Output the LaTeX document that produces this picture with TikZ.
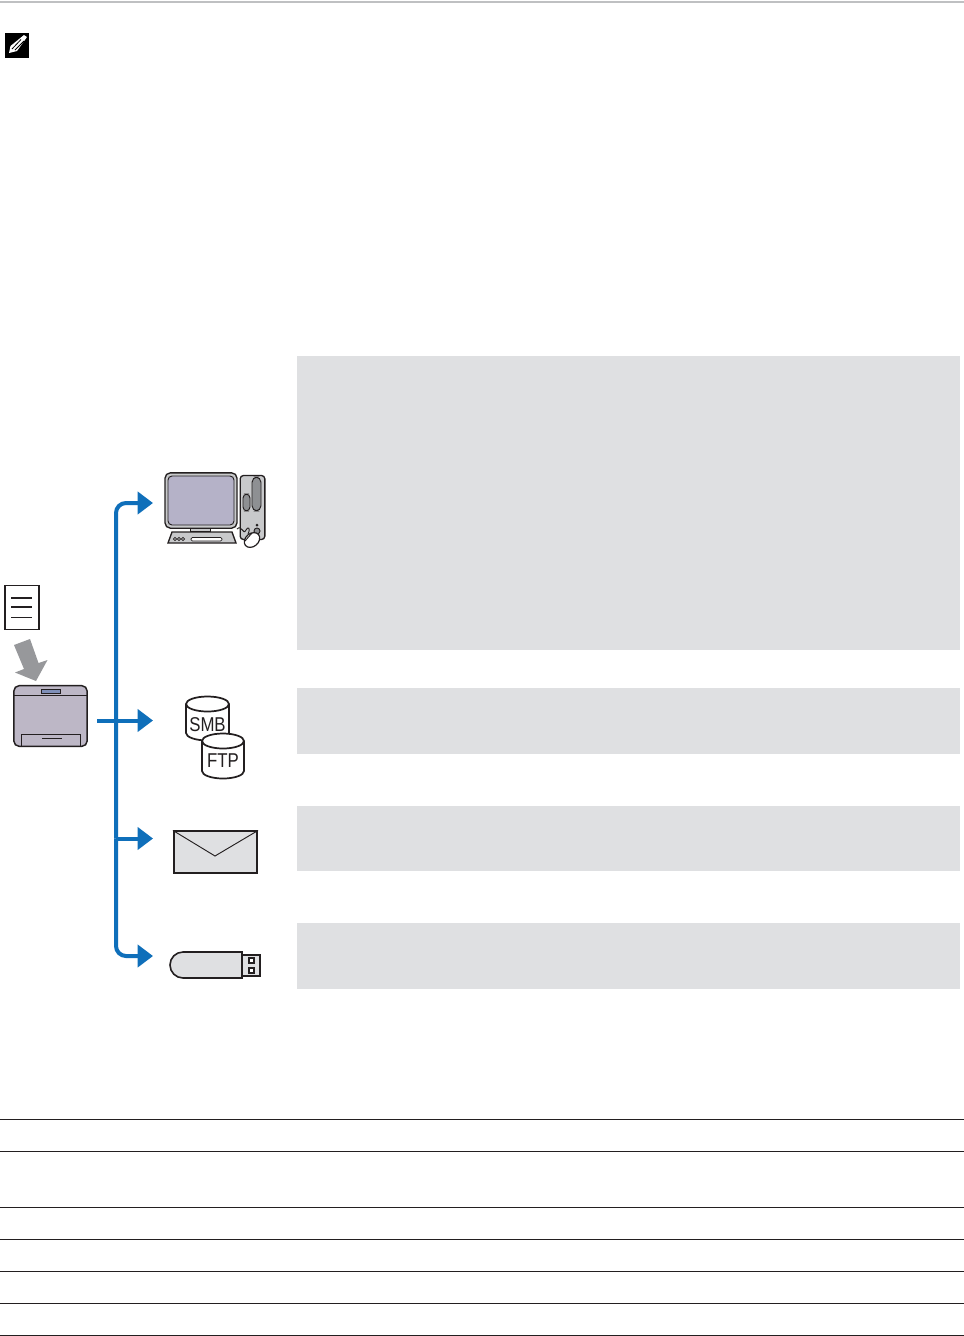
\documentclass[tikz,border=0pt]{standalone}
\usepackage{fontspec}
\setmainfont{Liberation Sans}
\usetikzlibrary{arrows.meta}
\definecolor{panelgray}{HTML}{DFE0E2}
\definecolor{flowblue}{HTML}{0F6FBA}
\definecolor{inkdark}{HTML}{231F20}
\definecolor{devicepurple}{HTML}{BDB7C6}
\definecolor{screenpurple}{HTML}{B5B2C8}
\definecolor{panelblue}{HTML}{7F8FB8}
\definecolor{bodygray}{HTML}{C8C9CB}
\definecolor{slotgray}{HTML}{8E9093}
\definecolor{arrowgray}{HTML}{97989B}
\definecolor{rulegray}{HTML}{BFC0C2}
\tikzset{
  panel/.style={fill=panelgray,draw=none},
  flow/.style={draw=flowblue,line width=3pt,rounded corners=7.5pt,-{Triangle[length=11.5pt,width=16.5pt]}},
  outline/.style={draw=inkdark,line width=1pt},
  tablerule/.style={draw=inkdark,line width=.6pt},
  cylbody/.style={draw=inkdark,line width=1.3pt,fill=white},
  cyltext/.style={font=\fontsize{15pt}{15pt}\selectfont,text=inkdark,xscale=.84,transform shape,inner sep=0pt}
}
\begin{document}
\begin{tikzpicture}[x=.75pt,y=-.75pt]
\useasboundingbox (0,0) rectangle (964,1336);
\fill[white] (0,0) rectangle (964,1336);
% top rule
\draw[rulegray,line width=1.8pt] (0,2) -- (964,2);
% note icon
\fill[black] (5,33) rectangle (29,58);
\fill[white] (9,53) -- (10.5,46) -- (24,35) -- (27,37) -- (17,51) -- cycle;
\draw[black,line width=.6pt] (12,49) -- (21,39.5);
\draw[black,line width=.6pt] (15,50) -- (24,41);
% panels
\fill[panel] (297,356) rectangle (960,650);
\fill[panel] (297,688) rectangle (960,754);
\fill[panel] (297,806) rectangle (960,871);
\fill[panel] (297,923) rectangle (960,989);
% document
\node[draw=inkdark,line width=1.1pt,fill=white,minimum width=25.5pt,minimum height=33pt,inner sep=0pt] (doc) at (22,607.5) {};
\draw[inkdark,line width=1.1pt] (11,598) -- (32,598);
\draw[inkdark,line width=1.1pt] (11,607) -- (32,607);
\draw[inkdark,line width=.6pt] (11,617) -- (32,617);
% grey arrow
\fill[arrowgray] (14,645) -- (30,639) -- (38.5,663) -- (47.5,660) -- (36,681) -- (15,672.5) -- (24,669) -- cycle;
% printer
\node[draw=inkdark,line width=1.1pt,fill=devicepurple,rounded corners=4pt,minimum width=55pt,minimum height=45.5pt,inner sep=0pt] (printer) at (50.5,716) {};
\draw[inkdark,line width=.6pt] (14,695) -- (87,695);
\draw[inkdark,line width=.7pt,fill=panelblue] (41.5,689) rectangle (60.5,693.5);
\draw[inkdark,line width=.7pt] (21,746.5) -- (21,734) -- (80,734) -- (80,746.5);
\draw[inkdark,line width=.7pt] (42,738.5) -- (62,738.5);
% computer
\node[outline,fill=bodygray,rounded corners=4pt,minimum width=54pt,minimum height=41.5pt,inner sep=0pt] (monitor) at (201,500.5) {};
\draw[inkdark,line width=.7pt,fill=screenpurple,rounded corners=3pt] (168,476) rectangle (234,525);
\draw[inkdark,line width=.7pt,fill=bodygray] (190,528) rectangle (210,531);
\draw[outline,fill=bodygray] (172,532) -- (232,532) -- (236,543) -- (168,543) -- cycle;
\draw[inkdark,line width=.5pt] (175,539) circle (1.6) (179,539) circle (1.6) (183,539) circle (1.6);
\draw[inkdark,line width=.5pt,rounded corners=1pt,fill=white] (191,537.5) rectangle (222,541);
\node[outline,fill=bodygray,rounded corners=2.5pt,minimum width=18.5pt,minimum height=48pt,inner sep=0pt] (tower) at (252.5,507.5) {};
\draw[inkdark,line width=.7pt,fill=slotgray,rounded corners=4pt] (252,477) rectangle (261,511);
\draw[inkdark,line width=.7pt,fill=slotgray,rounded corners=3pt] (243,494) rectangle (250,511);
\fill[inkdark] (257,525) circle (1.5);
\draw[inkdark,line width=.7pt,fill=slotgray] (257,531) circle (3);
\draw[inkdark,line width=.7pt] (237,529) .. controls (242,524) and (243,536) .. (246,530) .. controls (248,526) and (251,528) .. (248,534);
\draw[inkdark,line width=.9pt,fill=white,rotate around={40:(252,540)}] (252,540) ellipse (8.5 and 6.5);
\draw[inkdark,line width=.7pt] (245,541) -- (252,533);
% connectors
\coordinate (trunkout) at (97,720.5);
\coordinate (trunktop) at (116,503);
\coordinate (trunkbottom) at (116,956);
\coordinate (trunkmid) at (116,838.5);
\coordinate (headpc) at (153,503);
\coordinate (headserver) at (153,720.5);
\coordinate (heademail) at (153,838.5);
\coordinate (headusb) at (153,956);
\draw[flow] (trunkmid) -- (heademail);
\draw[flow] (trunkout) -- (headserver);
\draw[flow] (trunkmid) -- (trunktop) -- (headpc);
\draw[flow] (trunkmid) -- (trunkbottom) -- (headusb);
% SMB cylinder
\draw[cylbody] (186,704) -- (186,733) arc[start angle=180,end angle=0,x radius=21.5,y radius=7.5] -- (229,704) arc[start angle=0,end angle=-180,x radius=21.5,y radius=7.5] -- cycle;
\draw[draw=inkdark,line width=1.3pt] (186,704) arc[start angle=180,end angle=0,x radius=21.5,y radius=7.5];
\node[cyltext] (smb) at (207.5,724.5) {SMB};
% FTP cylinder
\draw[cylbody] (202,741) -- (202,771) arc[start angle=180,end angle=0,x radius=21,y radius=7.5] -- (244,741) arc[start angle=0,end angle=-180,x radius=21,y radius=7.5] -- cycle;
\draw[draw=inkdark,line width=1.3pt] (202,741) arc[start angle=180,end angle=0,x radius=21,y radius=7.5];
\node[cyltext] (ftp) at (223,760.5) {FTP};
% envelope
\node[draw=inkdark,fill=panelgray,line width=1.3pt,minimum width=62.5pt,minimum height=31pt,inner sep=0pt] (envelope) at (215.5,852) {};
\draw[inkdark,line width=.7pt] (envelope.north west) -- (215,856) -- (envelope.north east);
% USB stick
\draw[draw=inkdark,line width=1.2pt,fill=panelgray] (242,955) rectangle (260,976);
\draw[draw=inkdark,line width=.8pt,fill=white] (249,958) rectangle (254,963);
\draw[draw=inkdark,line width=.8pt,fill=white] (249,968) rectangle (254,973);
\draw[draw=inkdark,line width=1.2pt,fill=panelgray] (242,952) -- (183,952) arc[start angle=270,end angle=90,radius=13] -- (242,978) -- cycle;
% table rules
\draw[tablerule] (0,1119.5) -- (964,1119.5);
\draw[tablerule] (0,1151.5) -- (964,1151.5);
\draw[tablerule] (0,1207.5) -- (964,1207.5);
\draw[tablerule] (0,1239.5) -- (964,1239.5);
\draw[tablerule] (0,1271.5) -- (964,1271.5);
\draw[tablerule] (0,1303.5) -- (964,1303.5);
\draw[tablerule] (0,1335.5) -- (964,1335.5);
\end{tikzpicture}
\end{document}
